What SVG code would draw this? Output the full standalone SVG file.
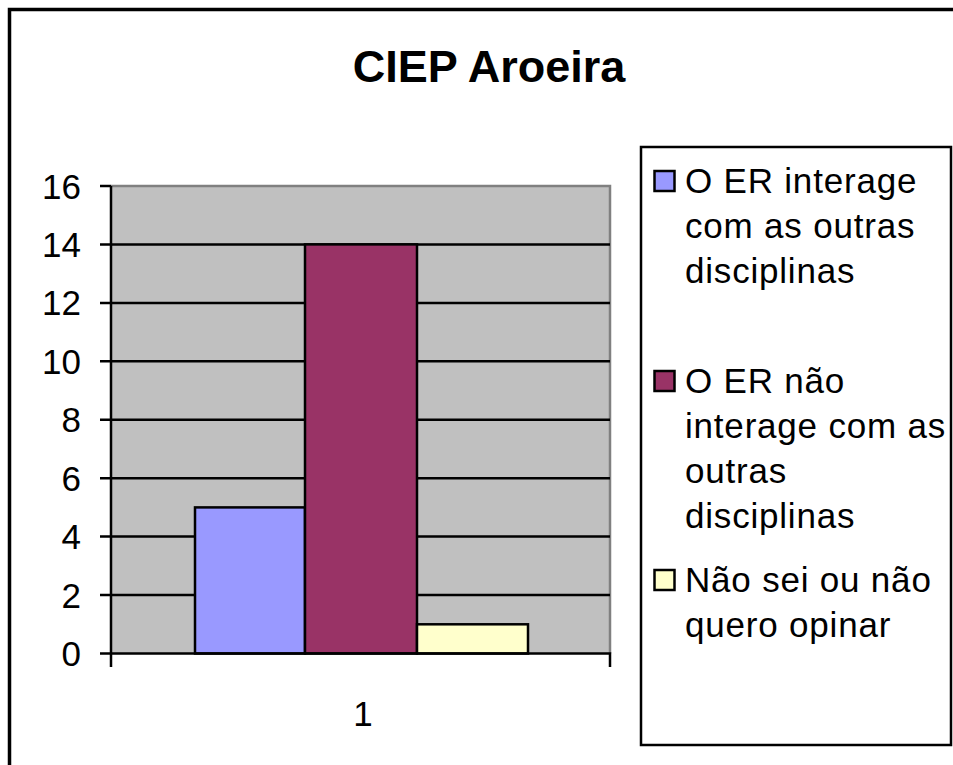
<svg xmlns="http://www.w3.org/2000/svg" width="953" height="765" viewBox="0 0 953 765">
<style>
text{font-family:"Liberation Sans",Arial,sans-serif;fill:#000}
.t{font-size:35px}
.lt{font-size:35px;letter-spacing:0.8px}
.ax{text-anchor:end}
.g{stroke:#000;stroke-width:2.5;fill:none}
.bar{stroke:#000;stroke-width:2.5}
.sw{stroke:#000;stroke-width:2.5}
</style>
<rect x="0" y="0" width="953" height="765" fill="#fff"/>
<path d="M9.5 765 V9.5 H953" fill="none" stroke="#000" stroke-width="3.5"/>
<g id="title"><text x="489" y="82" text-anchor="middle" font-size="45" font-weight="bold">CIEP Aroeira</text></g>
<g id="plot">
<rect x="111" y="186" width="499" height="467.5" fill="#C0C0C0"/>
<path d="M111 186 H610 V653.5" fill="none" stroke="#808080" stroke-width="2.5"/>
<g class="g">
<path d="M111 244.4 H610 M111 302.9 H610 M111 361.3 H610 M111 419.8 H610 M111 478.2 H610 M111 536.6 H610 M111 595.1 H610"/>
</g>
</g>
<g id="bars">
<rect id="bar-blue" class="bar" x="195" y="507.4" width="110" height="146.1" fill="#9999FF"/>
<rect id="bar-maroon" class="bar" x="305" y="244.4" width="112" height="409.1" fill="#993366"/>
<rect id="bar-yellow" class="bar" x="417" y="624.3" width="111" height="29.2" fill="#FFFFCC"/>
</g>
<g id="axes" class="g">
<path d="M111 186 V667 M111 653.5 H610 V667"/>
<path d="M100 186 H111 M100 244.4 H111 M100 302.9 H111 M100 361.3 H111 M100 419.8 H111 M100 478.2 H111 M100 536.6 H111 M100 595.1 H111 M100 653.5 H111"/>
</g>
<g id="ylabels" class="t ax">
<text x="81" y="198.5">16</text>
<text x="81" y="256.9">14</text>
<text x="81" y="315.4">12</text>
<text x="81" y="373.8">10</text>
<text x="81" y="432.3">8</text>
<text x="81" y="490.7">6</text>
<text x="81" y="549.1">4</text>
<text x="81" y="607.6">2</text>
<text x="81" y="666">0</text>
</g>
<g id="xlabel"><text class="t" x="363" y="726" text-anchor="middle">1</text></g>
<g id="legend">
<rect x="641" y="147" width="310" height="598" fill="#fff" stroke="#000" stroke-width="2.5"/>
<g id="legend-1">
<rect class="sw" x="654.5" y="171" width="20" height="20" fill="#9999FF"/>
<text class="lt" x="685" y="193">O ER interage</text>
<text class="lt" x="685" y="238">com as outras</text>
<text class="lt" x="685" y="283">disciplinas</text>
</g>
<g id="legend-2">
<rect class="sw" x="654.5" y="371" width="20" height="20" fill="#993366"/>
<text class="lt" x="685" y="393">O ER não</text>
<text class="lt" x="685" y="438">interage com as</text>
<text class="lt" x="685" y="483">outras</text>
<text class="lt" x="685" y="528">disciplinas</text>
</g>
<g id="legend-3">
<rect class="sw" x="654.5" y="570" width="20" height="20" fill="#FFFFCC"/>
<text class="lt" x="685" y="592">Não sei ou não</text>
<text class="lt" x="685" y="637">quero opinar</text>
</g>
</g>
</svg>
